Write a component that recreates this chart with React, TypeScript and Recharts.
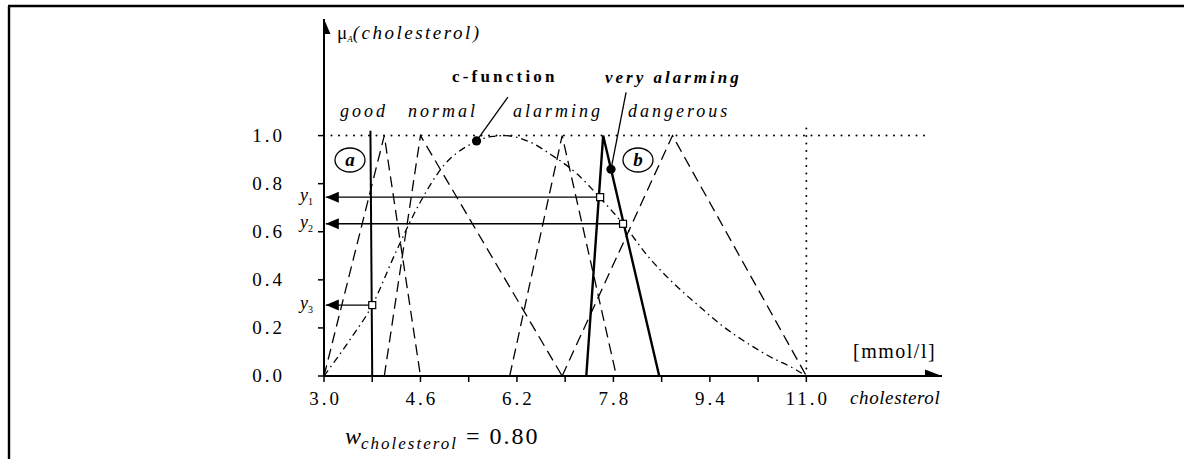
import React from 'react';
import { ComposedChart, Line, Scatter, XAxis, YAxis, ReferenceLine } from 'recharts';

const FONT = '"Liberation Serif", "Times New Roman", "DejaVu Serif", serif';

// Axis ticks
const xTicks = [3.0, 3.8, 4.6, 5.4, 6.2, 7.0, 7.8, 8.6, 9.4, 10.2, 11.0];
const xTickLabels = ['3.0', '', '4.6', '', '6.2', '', '7.8', '', '9.4', '', '11.0'];
const yTicks = [0, 0.2, 0.4, 0.6, 0.8, 1.0];
const yTickLabels = ['0.0', '0.2', '0.4', '0.6', '0.8', '1.0'];

// c-function (dash-dot)
const cX = [3.0, 3.4, 3.8, 4.2, 4.6, 5.0, 5.4, 5.8, 6.0, 6.4, 6.8, 7.2, 7.56, 7.96, 8.4, 8.8, 9.2, 9.6, 10.0, 10.4, 10.8, 11.0];
const cY = [0, 0.14, 0.295, 0.52, 0.725, 0.88, 0.96, 0.997, 1.0, 0.975, 0.915, 0.84, 0.746, 0.633, 0.49, 0.385, 0.295, 0.21, 0.14, 0.08, 0.03, 0];

// crisp set boundary "a" (solid)
const crispX = [3.8, 3.77];
const crispY = [0, 1.02];

// very alarming (bold solid)
const veryX = [7.35, 7.63, 8.56];
const veryY = [0, 1, 0];

// dashed triangles
const goodX = [3.0, 4.0, 4.6];
const goodY = [0, 1, 0];
const normalX = [4.0, 4.6, 6.95];
const normalY = [0, 1, 0];
const alarmingX = [6.08, 6.95, 7.85];
const alarmingY = [0, 1, 0];
const dangerousX = [6.95, 8.78, 11.0];
const dangerousY = [0, 1, 0];

// read-off points y1, y2, y3
const readX = [7.58, 7.96, 3.8];
const readY = [0.744, 0.633, 0.295];
const readNames = ['1', '2', '3'];

// label pointer dots
const dotX = [5.53, 7.76];
const dotY = [0.978, 0.86];
const pointerEndX = [6.05, 8.01];
const pointerEndY = [1.16, 1.18];

// guide lines
const domainX: [number, number] = [3, 13.25];
const domainY: [number, number] = [0, 1.485];
const dottedLevel = 1.0;
const dottedEndX = 13.0;
const maxX = 11.0;
const maxGuideY = 1.045;
const arrowTipX = 3.03;

const zip = (xs: number[], ys: number[]) => xs.map((x, i) => ({ x, y: ys[i] }));

const cData = zip(cX, cY);
const crispData = zip(crispX, crispY);
const veryData = zip(veryX, veryY);
const goodData = zip(goodX, goodY);
const normalData = zip(normalX, normalY);
const alarmingData = zip(alarmingX, alarmingY);
const dangerousData = zip(dangerousX, dangerousY);
const readData = zip(readX, readY);
const readLines = readX.map((x, i) => [{ x, y: readY[i] }, { x: arrowTipX, y: readY[i] }]);
const leftArrowData = readY.map((y) => ({ x: arrowTipX, y }));
const dotData = zip(dotX, dotY);
const pointerLines = dotX.map((x, i) => [{ x, y: dotY[i] }, { x: pointerEndX[i], y: pointerEndY[i] }]);
const rightArrowData = [{ x: domainX[1], y: 0 }];
const upArrowData = [{ x: domainX[0], y: domainY[1] }];

const square = (p: any) => (
  <rect x={p.cx - 3.5} y={p.cy - 3.5} width={7} height={7} fill="#fff" stroke="#000" strokeWidth={1.2} />
);
const blackDot = (p: any) => <circle cx={p.cx} cy={p.cy} r={4.6} fill="#000" />;
const leftArrow = (p: any) => (
  <polygon points={`${p.cx},${p.cy} ${p.cx + 13},${p.cy - 5.5} ${p.cx + 13},${p.cy + 5.5}`} fill="#000" />
);
const rightArrow = (p: any) => (
  <polygon points={`${p.cx},${p.cy} ${p.cx - 17},${p.cy - 6.5} ${p.cx - 17},${p.cy + 6.5}`} fill="#000" />
);
const upArrow = (p: any) => (
  <polygon points={`${p.cx},${p.cy} ${p.cx - 6.5},${p.cy + 15} ${p.cx + 6.5},${p.cy + 15}`} fill="#000" />
);

const XTick = (props: any) => {
  const { x, y, payload } = props;
  const idx = xTicks.findIndex((t) => Math.abs(t - payload.value) < 1e-6);
  const label = idx >= 0 ? xTickLabels[idx] : '';
  if (!label) return null;
  return (
    <text x={x + 1.5} y={y + 21} textAnchor="middle" style={{ fontFamily: FONT }} fontSize={19} letterSpacing={3} fill="#000">
      {label}
    </text>
  );
};

const YTick = (props: any) => {
  const { x, y, payload } = props;
  const idx = yTicks.findIndex((t) => Math.abs(t - payload.value) < 1e-6);
  return (
    <text x={x - 33} y={y + 6} textAnchor="end" style={{ fontFamily: FONT }} fontSize={19} letterSpacing={3} fill="#000">
      {yTickLabels[idx]}
    </text>
  );
};

const common = { isAnimationActive: false, dot: false, activeDot: false, legendType: 'none' as const, dataKey: 'y' };

export default function App() {
  return (
    <div style={{ position: 'absolute', left: 0, top: 0, width: 1184, height: 459, background: '#fff' }}>
      <ComposedChart width={1184} height={459} margin={{ top: 19, right: 242, bottom: 53, left: 264 }}>
        <XAxis
          type="number"
          dataKey="x"
          domain={domainX}
          ticks={xTicks}
          interval={0}
          allowDataOverflow
          axisLine={{ stroke: '#000', strokeWidth: 2 }}
          tickLine={{ stroke: '#000', strokeWidth: 1.5 }}
          tickSize={6}
          height={30}
          tick={<XTick />}
        />
        <YAxis
          type="number"
          dataKey="y"
          domain={domainY}
          ticks={yTicks}
          interval={0}
          allowDataOverflow
          axisLine={{ stroke: '#000', strokeWidth: 2 }}
          tickLine={{ stroke: '#000', strokeWidth: 1.5 }}
          tickSize={6}
          tickMargin={0}
          width={60}
          tick={<YTick />}
        />
        <ReferenceLine
          segment={[{ x: domainX[0], y: dottedLevel }, { x: dottedEndX, y: dottedLevel }]}
          stroke="#000"
          strokeWidth={2}
          strokeDasharray="0 7.5"
          strokeLinecap="round"
          ifOverflow="visible"
        />
        <ReferenceLine
          segment={[{ x: maxX, y: 0 }, { x: maxX, y: maxGuideY }]}
          stroke="#000"
          strokeWidth={2}
          strokeDasharray="0 7.5"
          strokeLinecap="round"
          ifOverflow="visible"
        />
        <Line {...common} data={goodData} stroke="#000" strokeWidth={1.3} strokeDasharray="11 6" type="linear" />
        <Line {...common} data={normalData} stroke="#000" strokeWidth={1.3} strokeDasharray="11 6" type="linear" />
        <Line {...common} data={alarmingData} stroke="#000" strokeWidth={1.3} strokeDasharray="11 6" type="linear" />
        <Line {...common} data={dangerousData} stroke="#000" strokeWidth={1.3} strokeDasharray="11 6" type="linear" />
        <Line {...common} data={cData} stroke="#000" strokeWidth={1.3} strokeDasharray="7 4 1.5 4" type="monotone" />
        <Line {...common} data={crispData} stroke="#000" strokeWidth={2} type="linear" />
        <Line {...common} data={veryData} stroke="#000" strokeWidth={2.4} type="linear" />
        {readLines.map((d, i) => (
          <Line key={'r' + i} {...common} data={d} stroke="#000" strokeWidth={1.4} type="linear" />
        ))}
        {pointerLines.map((d, i) => (
          <Line key={'p' + i} {...common} data={d} stroke="#000" strokeWidth={1.3} type="linear" />
        ))}
        <Scatter data={leftArrowData} dataKey="y" shape={leftArrow} isAnimationActive={false} legendType="none" />
        <Scatter data={readData} dataKey="y" shape={square} isAnimationActive={false} legendType="none" />
        <Scatter data={dotData} dataKey="y" shape={blackDot} isAnimationActive={false} legendType="none" />
        <Scatter data={rightArrowData} dataKey="y" shape={rightArrow} isAnimationActive={false} legendType="none" />
        <Scatter data={upArrowData} dataKey="y" shape={upArrow} isAnimationActive={false} legendType="none" />

        {/* frame */}
        <line x1={9} y1={6} x2={9} y2={459} stroke="#000" strokeWidth={2.4} />
        <line x1={8} y1={6} x2={1184} y2={6} stroke="#000" strokeWidth={2.4} />

        <g style={{ fontFamily: FONT }} fill="#000">
          <text x={337} y={39} fontSize={19}>
            <tspan>μ</tspan>
            <tspan fontSize={9} fontStyle="italic" dy={3}>A</tspan>
            <tspan fontStyle="italic" dy={-3} letterSpacing={2.5}>(cholesterol)</tspan>
          </text>
          <text x={452} y={82} fontSize={17} fontWeight="bold" letterSpacing={3.2}>c-function</text>
          <text x={605} y={83} fontSize={17} fontWeight="bold" fontStyle="italic" letterSpacing={3}>very alarming</text>
          <g fontSize={18} fontStyle="italic" letterSpacing={3}>
            <text x={340} y={117}>good</text>
            <text x={408} y={117}>normal</text>
            <text x={513} y={117}>alarming</text>
            <text x={628} y={117}>dangerous</text>
          </g>
          <ellipse cx={350} cy={160} rx={15} ry={12} fill="none" stroke="#000" strokeWidth={1.3} />
          <text x={350} y={166} fontSize={19} fontWeight="bold" fontStyle="italic" textAnchor="middle">a</text>
          <ellipse cx={638} cy={160} rx={15} ry={12} fill="none" stroke="#000" strokeWidth={1.3} />
          <text x={638} y={166} fontSize={19} fontWeight="bold" fontStyle="italic" textAnchor="middle">b</text>
          {readNames.map((n, i) => (
            <text key={n} x={300} y={376 - readY[i] * 240.5 + 4} fontSize={18}>
              <tspan fontStyle="italic">y</tspan>
              <tspan fontSize={10} dy={4}>{n}</tspan>
            </text>
          ))}
          <text x={853} y={358} fontSize={20} letterSpacing={1.5}>[mmol/l]</text>
          <text x={850} y={404} fontSize={19} fontStyle="italic" letterSpacing={0.6}>cholesterol</text>
          <text x={345} y={444} fontSize={24}>
            <tspan fontStyle="italic">w</tspan>
            <tspan fontSize={17} fontStyle="italic" dy={5} letterSpacing={2}>cholesterol</tspan>
            <tspan dy={-5} dx={8} letterSpacing={2}>= 0.80</tspan>
          </text>
        </g>
      </ComposedChart>
    </div>
  );
}
